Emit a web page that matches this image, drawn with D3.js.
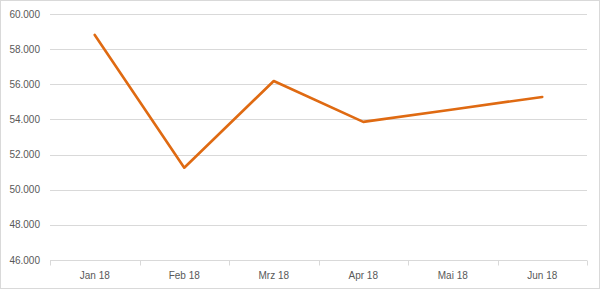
<!DOCTYPE html>
<html>
<head>
<meta charset="utf-8">
<script src="https://cdn.jsdelivr.net/npm/d3@7"></script>
<style>
  body { margin: 0; background: #fff; }
  text { font-family: "Liberation Sans", Arial, sans-serif; font-size: 10px; fill: #595959; }
</style>
</head>
<body>
<script>
// months and values
var months = ["Jan 18", "Feb 18", "Mrz 18", "Apr 18", "Mai 18", "Jun 18"];
var values = [58810, 51250, 56190, 53860, 54570, 55280];
var yTicks = [46000, 48000, 50000, 52000, 54000, 56000, 58000, 60000];

function draw() {
    var w = 600;
    var h = 289;
    var margin = {top: 14, right: 13, bottom: 29, left: 50};

    var svg = d3.select("body")
        .append("svg")
        .attr("width", w)
        .attr("height", h);

    // outer border of the chart area
    svg.append("rect")
        .attr("x", 0.5).attr("y", 0.5)
        .attr("width", w - 1).attr("height", h - 1)
        .attr("fill", "#fff")
        .attr("stroke", "#d9d9d9");

    var x = d3.scaleBand()
        .domain(months)
        .range([margin.left, w - margin.right]);

    var y = d3.scaleLinear()
        .domain([46000, 60000])
        .range([h - margin.bottom, margin.top]);

    var fmt = function(d) { return d3.format(",")(d).replace(/,/g, "."); };

    // gridlines
    svg.append("g")
        .selectAll("line")
        .data(yTicks.slice(1))
        .enter()
        .append("line")
        .attr("x1", margin.left)
        .attr("x2", w - margin.right)
        .attr("y1", function(d) { return Math.round(y(d)) + 0.5; })
        .attr("y2", function(d) { return Math.round(y(d)) + 0.5; })
        .attr("stroke", "#d9d9d9");

    // y labels
    svg.append("g")
        .selectAll("text")
        .data(yTicks)
        .enter()
        .append("text")
        .attr("x", 40)
        .attr("y", function(d) { return y(d) + 3.5; })
        .attr("text-anchor", "end")
        .text(fmt);

    // x axis
    var xAxis = svg.append("g")
        .attr("transform", "translate(0," + (Math.round(y(46000)) + 0.5) + ")");
    xAxis.append("line")
        .attr("x1", margin.left).attr("x2", w - margin.right)
        .attr("stroke", "#d9d9d9");
    var edges = months.map(function(m) { return x(m); }).concat([x(months[months.length - 1]) + x.bandwidth()]);
    xAxis.selectAll("line.tick")
        .data(edges)
        .enter()
        .append("line")
        .attr("class", "tick")
        .attr("x1", function(d) { return Math.round(d) + 0.5; })
        .attr("x2", function(d) { return Math.round(d) + 0.5; })
        .attr("y1", 0).attr("y2", 5)
        .attr("stroke", "#d9d9d9");
    xAxis.selectAll("text")
        .data(months)
        .enter()
        .append("text")
        .attr("x", function(d) { return x(d) + x.bandwidth() / 2; })
        .attr("y", 18)
        .attr("text-anchor", "middle")
        .text(function(d) { return d; });

    // the line
    var line = d3.line()
        .x(function(d, i) { return x(months[i]) + x.bandwidth() / 2; })
        .y(function(d) { return y(d); });

    svg.append("path")
        .datum(values)
        .attr("fill", "none")
        .attr("stroke", "#df6a12")
        .attr("stroke-width", 2.6)
        .attr("stroke-linejoin", "round")
        .attr("stroke-linecap", "round")
        .attr("d", line);
}
window.onload = draw;
</script>
</body>
</html>
